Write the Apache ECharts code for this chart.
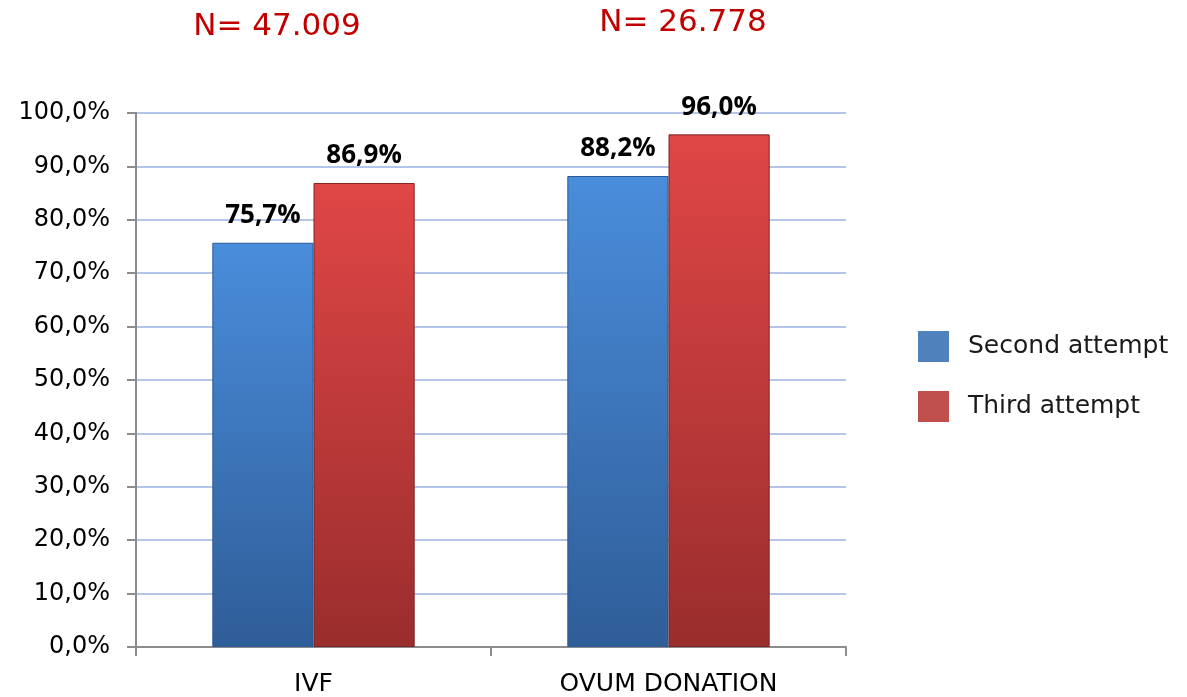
<!DOCTYPE html>
<html>
<head>
<meta charset="utf-8">
<script src="https://cdn.jsdelivr.net/npm/echarts@6/dist/echarts.min.js"></script>
<style>
  html, body { margin: 0; padding: 0; background: #fff; }
  #chart { width: 1187px; height: 697px; }
</style>
</head>
<body>
<div id="chart"></div>
<script>
// data
const categories = ['IVF', 'OVUM DONATION'];
const secondAttempt = [75.7, 88.2];
const thirdAttempt = [86.9, 96.0];
const sampleSizes = ['N= 47.009', 'N= 26.778'];
const yTicks = [0, 100, 10]; // min, max, interval

const myChart = echarts.init(document.getElementById('chart'));

const fmt = (v) => v.toFixed(1).replace('.', ',') + '%';

const grad = (top, bottom) => new echarts.graphic.LinearGradient(0, 0, 0, 1, [
  { offset: 0, color: top },
  { offset: 1, color: bottom },
]);

const labelStyle = {
  show: true,
  position: 'top',
  distance: 14,
  fontFamily: 'Open Sans',
  fontWeight: 'bold',
  fontSize: 26,
  color: '#000',
  formatter: (p) => fmt(p.value),
};

const option = {
  animation: false,
  backgroundColor: '#fff',
  title: [
    {
      text: sampleSizes[0], left: 272, top: 6, textAlign: 'center',
      textStyle: { color: '#c00000', fontSize: 31, fontWeight: 'normal', fontFamily: 'DejaVu Sans' },
    },
    {
      text: sampleSizes[1], left: 678, top: 2, textAlign: 'center',
      textStyle: { color: '#c00000', fontSize: 31, fontWeight: 'normal', fontFamily: 'DejaVu Sans' },
    },
  ],
  legend: {
    orient: 'vertical',
    left: 918,
    top: 331,
    padding: 0,
    itemWidth: 31,
    itemHeight: 31,
    itemGap: 29,
    icon: 'rect',
    textStyle: { fontSize: 25, color: '#1a1a1a', fontFamily: 'DejaVu Sans', padding: [6, 0, 0, 14] },
    data: [
      { name: 'Second attempt', itemStyle: { color: '#4f81bd', borderWidth: 0 } },
      { name: 'Third attempt', itemStyle: { color: '#c0504d', borderWidth: 0 } },
    ],
  },
  grid: { left: 136, right: 341, top: 113, bottom: 50 },
  xAxis: {
    type: 'category',
    data: categories,
    boundaryGap: true,
    axisLine: { lineStyle: { color: '#8c8c8c', width: 2 } },
    axisTick: { show: true, length: 9, lineStyle: { color: '#8c8c8c', width: 2 } },
    axisLabel: { fontSize: 25, color: '#000', fontFamily: 'DejaVu Sans', margin: 25 },
  },
  yAxis: {
    type: 'value',
    min: yTicks[0],
    max: yTicks[1],
    interval: yTicks[2],
    axisLine: { show: true, lineStyle: { color: '#8c8c8c', width: 2 } },
    axisTick: { show: true, length: 9, lineStyle: { color: '#8c8c8c', width: 2 } },
    axisLabel: { fontSize: 24, color: '#000', fontFamily: 'DejaVu Sans', margin: 26, formatter: fmt },
    splitLine: { lineStyle: { color: '#b4c6e7', width: 2 } },
  },
  series: [
    {
      name: 'Second attempt',
      type: 'bar',
      data: secondAttempt,
      barWidth: '28.5%',
      barGap: '0%',
      itemStyle: { color: grad('#4a8ddb', '#2f5d98'), borderColor: '#2d5a94', borderWidth: 1 },
      label: labelStyle,
    },
    {
      name: 'Third attempt',
      type: 'bar',
      data: thirdAttempt,
      barWidth: '28.5%',
      itemStyle: { color: grad('#e04646', '#9a2d2d'), borderColor: '#7e2424', borderWidth: 1 },
      label: labelStyle,
    },
  ],
};

myChart.setOption(option);
</script>
</body>
</html>
